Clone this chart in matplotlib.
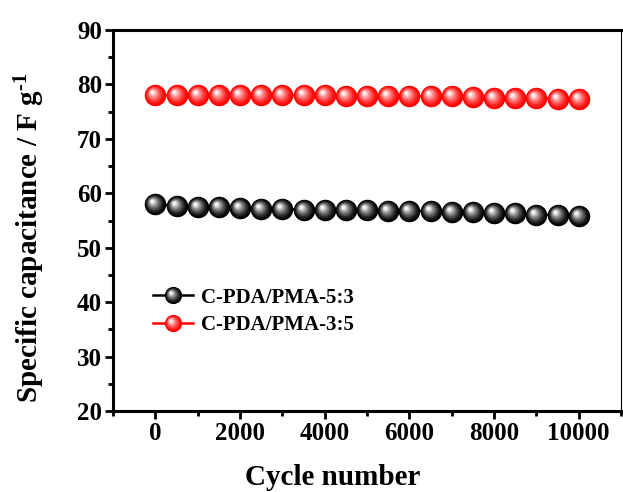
import numpy as np
import matplotlib
matplotlib.use("Agg")
import matplotlib.pyplot as plt
from matplotlib.path import Path
from matplotlib.markers import MarkerStyle
from matplotlib.legend_handler import HandlerTuple

cycles = np.arange(0, 10001, 500)
cap_53 = [58.1, 57.6, 57.5, 57.4, 57.3, 57.2, 57.1, 57.0, 56.9, 56.9, 56.9,
          56.8, 56.8, 56.7, 56.6, 56.6, 56.4, 56.3, 56.1, 56.0, 55.8]
cap_35 = [78.0, 78.0, 78.0, 78.0, 78.0, 78.0, 78.0, 78.0, 78.0, 77.9, 77.9,
          77.9, 77.9, 77.8, 77.8, 77.7, 77.6, 77.6, 77.5, 77.4, 77.3]
labels = ["C-PDA/PMA-5:3", "C-PDA/PMA-3:5"]

plt.rcParams["font.family"] = ["Liberation Serif"]
plt.rcParams["font.weight"] = "bold"
plt.rcParams["mathtext.fontset"] = "custom"
plt.rcParams["mathtext.rm"] = "Liberation Serif:bold"
plt.rcParams["mathtext.it"] = "Liberation Serif:bold"


def sphere_layers(base, light, ms, n=7):
    # stack of shrinking, lighter circles shifted to upper left -> shaded ball
    base = np.array(matplotlib.colors.to_rgb(base))
    light = np.array(matplotlib.colors.to_rgb(light))
    unit = Path.unit_circle()
    layers = [(MarkerStyle("o"), ms, tuple(base))]
    for i in range(1, n + 1):
        t = i / n
        r = 1.0 - 0.82 * t
        off = 0.28 * t
        verts = unit.vertices * r + np.array([-off, off])
        p = Path(verts, unit.codes)
        R = np.max(np.abs(verts))
        col = base + (light - base) * t ** 1.4
        layers.append((MarkerStyle(p), ms * R, tuple(col)))
    return layers


fig = plt.figure(figsize=(6.23, 4.92), dpi=100)
ax = fig.add_axes([0.1814, 0.1646, 0.8154, 0.7744])

ms = 15.5
handles = []
for y, c, light, lab in [(cap_53, "black", "#f4f4f4", labels[0]),
                         (cap_35, "#ff0000", "#ffeeee", labels[1])]:
    ln, = ax.plot(cycles, y, color=c, lw=1.8, zorder=2)
    parts = [ln]
    for k, (m, s, col) in enumerate(sphere_layers(c, light, ms)):
        l2, = ax.plot(cycles, y, ls="none", marker=m, ms=s, mfc=col,
                      mec="none", zorder=3 + k)
        parts.append(l2)
    handles.append(tuple(parts))

ax.set_xlim(-1000, 11000)
ax.set_ylim(20, 90)
ax.set_xticks(np.arange(0, 10001, 2000))
ax.set_xticks(np.arange(-1000, 11001, 2000), minor=True)
ax.set_yticks(np.arange(20, 91, 10))
ax.set_yticks(np.arange(25, 90, 10), minor=True)

ax.tick_params(which="major", direction="out", length=6, width=2, labelsize=18, pad=2)
ax.tick_params(which="minor", direction="out", length=3.5, width=2)
for side in ["left", "bottom", "top"]:
    ax.spines[side].set_linewidth(2.2)
ax.spines["right"].set_linewidth(0.8)

ax.set_xlabel("Cycle number", fontsize=21, fontweight="bold", va="top")
ax.xaxis.set_label_coords(0.433, -0.138)
ax.set_ylabel("Specific capacitance / F g$^{\u2010 1}$", fontsize=21, fontweight="bold")
ax.yaxis.set_label_coords(-0.13, 0.454)

ax.legend(handles, labels, handler_map={tuple: HandlerTuple(ndivide=1, pad=0)},
          loc="upper left", bbox_to_anchor=(0.063, 0.346), frameon=False,
          fontsize=15, handlelength=1.92, handletextpad=0.35, labelspacing=0.35,
          borderaxespad=0, markerscale=0.8)

fig.savefig("out.png", dpi=100)
